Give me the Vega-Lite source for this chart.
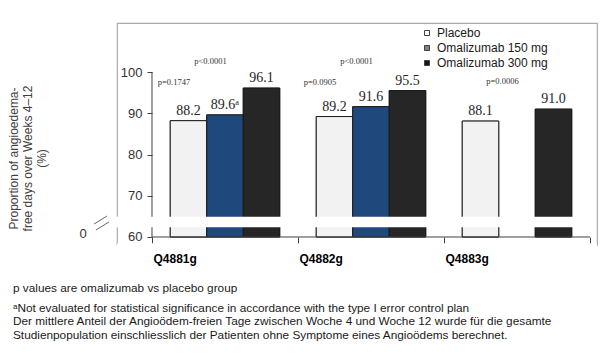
{
  "$schema": "https://vega.github.io/schema/vega-lite/v6.json",
  "width": 480,
  "height": 222,
  "autosize": {"type": "none"},
  "padding": {"left": 117, "top": 23, "right": 8, "bottom": 113},
  "background": "white",
  "config": {
    "view": {"stroke": "#ababab", "strokeWidth": 1.2},
    "font": "Liberation Sans"
  },
  "title": {
    "text": "p values are omalizumab vs placebo group",
    "subtitle": [
      "ᵃNot evaluated for statistical significance in accordance with the type I error control plan",
      "Der mittlere Anteil der Angioödem-freien Tage zwischen Woche 4 und Woche 12 wurde für die gesamte",
      "Studienpopulation einschliesslich der Patienten ohne Symptome eines Angioödems berechnet."
    ],
    "orient": "bottom",
    "anchor": "start",
    "frame": "group",
    "dx": -104,
    "offset": 19,
    "font": "Liberation Sans",
    "fontSize": 11.8,
    "fontWeight": "normal",
    "color": "#1a1a1a",
    "subtitleFont": "Liberation Sans",
    "subtitleFontSize": 11.8,
    "subtitleColor": "#1a1a1a",
    "subtitleLineHeight": 13.2,
    "subtitlePadding": 8.5
  },
  "datasets": {
    "bars": [
      {"group": "Q4881g", "treatment": "Placebo", "value": 88.2, "label": "88.2"},
      {"group": "Q4881g", "treatment": "Omalizumab 150 mg", "value": 89.6, "label": "89.6ᵃ"},
      {"group": "Q4881g", "treatment": "Omalizumab 300 mg", "value": 96.1, "label": "96.1"},
      {"group": "Q4882g", "treatment": "Placebo", "value": 89.2, "label": "89.2"},
      {"group": "Q4882g", "treatment": "Omalizumab 150 mg", "value": 91.6, "label": "91.6"},
      {"group": "Q4882g", "treatment": "Omalizumab 300 mg", "value": 95.5, "label": "95.5"},
      {"group": "Q4883g", "treatment": "Placebo", "value": 88.1, "label": "88.1"},
      {"group": "Q4883g", "treatment": "Omalizumab 300 mg", "value": 91.0, "label": "91.0"}
    ],
    "pvalues": [
      {"group": "Q4881g", "comparison": "150 mg vs placebo", "p": "p=0.1747"},
      {"group": "Q4881g", "comparison": "300 mg vs placebo", "p": "p<0.0001"},
      {"group": "Q4882g", "comparison": "150 mg vs placebo", "p": "p=0.0905"},
      {"group": "Q4882g", "comparison": "300 mg vs placebo", "p": "p<0.0001"},
      {"group": "Q4883g", "comparison": "300 mg vs placebo", "p": "p=0.0006"}
    ],
    "one": [{}]
  },
  "layer": [
    {
      "data": {"name": "one"},
      "mark": {"type": "rule", "color": "white", "strokeWidth": 3},
      "encoding": {"y": {"datum": 58.06, "type": "quantitative"}}
    },
    {
      "data": {"name": "bars"},
      "mark": {"type": "bar", "stroke": "#404040", "strokeWidth": 1},
      "encoding": {
        "x": {
          "field": "group",
          "type": "nominal",
          "scale": {"domain": ["Q4881g", "Q4882g", "Q4883g"], "paddingInner": 0, "paddingOuter": 0.1438, "align": 0.8333},
          "axis": {
            "orient": "bottom",
            "offset": -8,
            "domain": false,
            "grid": false,
            "tickBand": "extent",
            "tickSize": 6,
            "tickColor": "#404040",
            "labelAlign": "left",
            "labelOffset": -72,
            "labelPadding": 10,
            "labelFont": "Liberation Sans",
            "labelFontSize": 12,
            "labelFontWeight": "bold",
            "labelColor": "#000000",
            "labelAngle": 0,
            "title": null
          }
        },
        "xOffset": {
          "field": "treatment",
          "type": "nominal",
          "scale": {"domain": ["Placebo", "Omalizumab 150 mg", "Omalizumab 300 mg"], "paddingInner": 0, "paddingOuter": 0.5}
        },
        "y": {
          "field": "value",
          "type": "quantitative",
          "scale": {"domain": [58.06, 111.88], "nice": false, "zero": false},
          "axis": {
            "values": [60, 70, 80, 90, 100],
            "offset": -35,
            "domain": false,
            "grid": false,
            "tickSize": 5,
            "tickColor": "#404040",
            "labelFont": "Liberation Sans",
            "labelFontSize": 13,
            "labelColor": "#333333",
            "labelPadding": 5,
            "title": ["Proportion of angioedema-", "free days over Weeks 4–12", "(%)"],
            "titleFont": "Liberation Sans",
            "titleFontSize": 12,
            "titleFontWeight": "normal",
            "titleColor": "#404040",
            "titleLineHeight": 14,
            "titleAngle": -90,
            "titleAlign": "center",
            "titleBaseline": "middle",
            "titleX": -139,
            "titleY": 135
          }
        },
        "y2": {"datum": 60},
        "color": {
          "field": "treatment",
          "type": "nominal",
          "scale": {"domain": ["Placebo", "Omalizumab 150 mg", "Omalizumab 300 mg"], "range": ["#ffffff", "#7f7f7f", "#1a1a1a"]},
          "legend": {
            "title": null,
            "orient": "none",
            "legendX": 304,
            "legendY": 4,
            "padding": 0,
            "symbolType": "square",
            "symbolSize": 25,
            "symbolOpacity": 1,
            "symbolStrokeColor": "#404040",
            "symbolStrokeWidth": 1,
            "labelFont": "Liberation Sans",
            "labelFontSize": 12,
            "labelColor": "#1a1a1a",
            "labelOffset": 4,
            "rowPadding": 3
          }
        }
      }
    },
    {
      "data": {"name": "bars"},
      "mark": {"type": "bar", "stroke": "#1a1a1a", "strokeWidth": 1},
      "encoding": {
        "x": {"field": "group", "type": "nominal"},
        "xOffset": {"field": "treatment", "type": "nominal"},
        "y": {"field": "value", "type": "quantitative"},
        "y2": {"datum": 60},
        "fill": {
          "field": "treatment",
          "type": "nominal",
          "scale": {"domain": ["Placebo", "Omalizumab 150 mg", "Omalizumab 300 mg"], "range": ["#f2f2f2", "#1f497d", "#262626"]},
          "legend": null
        }
      }
    },
    {
      "data": {"name": "one"},
      "mark": {"type": "rule", "color": "#404040", "strokeWidth": 1},
      "encoding": {
        "x": {"datum": "Q4881g", "type": "nominal", "bandPosition": 0},
        "y": {"datum": 100, "type": "quantitative"},
        "y2": {"datum": 60}
      }
    },
    {
      "data": {"name": "one"},
      "mark": {"type": "rule", "color": "#404040", "strokeWidth": 1},
      "encoding": {
        "x": {"datum": "Q4881g", "type": "nominal", "bandPosition": 0},
        "x2": {"datum": "Q4883g", "bandPosition": 1},
        "y": {"datum": 60, "type": "quantitative"}
      }
    },
    {
      "data": {"name": "one"},
      "mark": {"type": "rect", "color": "white", "strokeWidth": 0},
      "encoding": {
        "x": {"datum": "Q4881g", "type": "nominal", "bandPosition": -0.5},
        "x2": {"datum": "Q4883g", "bandPosition": 1},
        "y": {"datum": 62.35, "type": "quantitative"},
        "y2": {"datum": 64.9}
      }
    },
    {
      "data": {"name": "one"},
      "mark": {"type": "text", "font": "Liberation Sans", "fontSize": 13, "color": "#333333", "align": "center", "baseline": "middle", "text": "0"},
      "encoding": {
        "x": {"datum": "Q4881g", "type": "nominal", "bandPosition": -0.4726},
        "y": {"datum": 60.73, "type": "quantitative"}
      }
    },
    {
      "data": {"name": "one"},
      "mark": {"type": "rule", "color": "#666666", "strokeWidth": 1},
      "encoding": {
        "x": {"datum": "Q4881g", "type": "nominal", "bandPosition": -0.397},
        "x2": {"datum": "Q4881g", "bandPosition": -0.308},
        "y": {"datum": 63.15, "type": "quantitative"},
        "y2": {"datum": 65.09}
      }
    },
    {
      "data": {"name": "one"},
      "mark": {"type": "rule", "color": "#666666", "strokeWidth": 1},
      "encoding": {
        "x": {"datum": "Q4881g", "type": "nominal", "bandPosition": -0.384},
        "x2": {"datum": "Q4881g", "bandPosition": -0.2945},
        "y": {"datum": 61.7, "type": "quantitative"},
        "y2": {"datum": 63.64}
      }
    },
    {
      "data": {"name": "bars"},
      "mark": {"type": "text", "font": "Liberation Serif", "fontSize": 14, "color": "#262626", "align": "center", "baseline": "alphabetic", "dy": -6},
      "encoding": {
        "x": {"field": "group", "type": "nominal"},
        "xOffset": {"field": "treatment", "type": "nominal"},
        "y": {"field": "value", "type": "quantitative"},
        "text": {"field": "label"}
      }
    },
    {
      "data": {"name": "pvalues"},
      "transform": [{"filter": "datum.comparison === '150 mg vs placebo'"}],
      "mark": {"type": "text", "font": "Liberation Serif", "fontSize": 8.5, "color": "#333333", "align": "center", "baseline": "middle", "dx": -14.5},
      "encoding": {
        "x": {"field": "group", "type": "nominal"},
        "xOffset": {"datum": "Placebo"},
        "y": {"datum": 97.5, "type": "quantitative"},
        "text": {"field": "p"}
      }
    },
    {
      "data": {"name": "pvalues"},
      "transform": [{"filter": "datum.comparison === '300 mg vs placebo' && datum.group !== 'Q4883g'"}],
      "mark": {"type": "text", "font": "Liberation Serif", "fontSize": 8.5, "color": "#333333", "align": "center", "baseline": "middle", "dx": -14.5},
      "encoding": {
        "x": {"field": "group", "type": "nominal"},
        "xOffset": {"datum": "Omalizumab 150 mg"},
        "y": {"datum": 102.6, "type": "quantitative"},
        "text": {"field": "p"}
      }
    },
    {
      "data": {"name": "pvalues"},
      "transform": [{"filter": "datum.group === 'Q4883g'"}],
      "mark": {"type": "text", "font": "Liberation Serif", "fontSize": 8.5, "color": "#333333", "align": "center", "baseline": "middle", "dx": -14.5},
      "encoding": {
        "x": {"field": "group", "type": "nominal"},
        "xOffset": {"datum": "Omalizumab 150 mg"},
        "y": {"datum": 97.8, "type": "quantitative"},
        "text": {"field": "p"}
      }
    }
  ]
}
